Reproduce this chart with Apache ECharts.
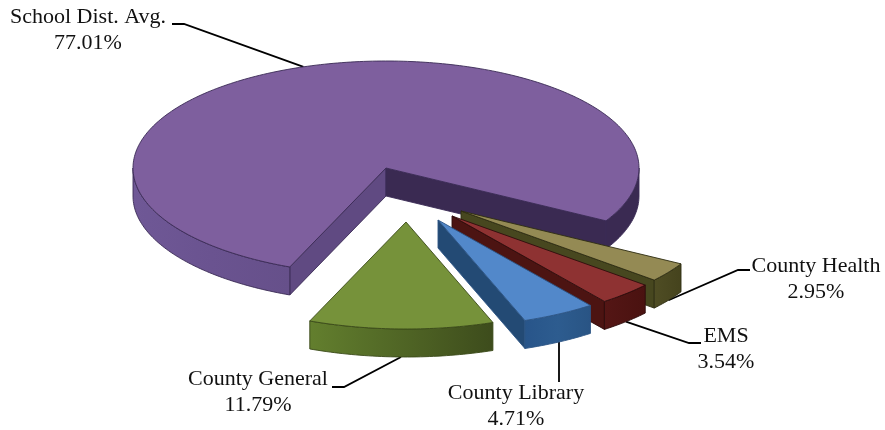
<!DOCTYPE html>
<html>
<head>
<meta charset="utf-8">
<style>html,body{margin:0;padding:0;background:#fff}#c{width:885px;height:430px}</style>
<script src="https://cdn.jsdelivr.net/npm/echarts@6/dist/echarts.min.js"></script>
</head>
<body>
<div id="c"></div>
<script>
// Data
var categories = ['School Dist. Avg.', 'County Health', 'EMS', 'County Library', 'County General'];
var shares = [77.01, 2.95, 3.54, 4.71, 11.79];

// Layout of the tilted pie (pixels / degrees)
var CX = 386, CY = 168, RX = 253, RY = 107, DEPTH = 28, START_ANGLE = 112.35;
var explode = [[0, 0], [75, 43], [66, 48], [52, 52], [20, 54]];
var labelCenters = [[88, 30], [816, 279], [726, 349], [516, 406], [258, 392]];
var leaderElbows = [
  [[172, 24], [184, 24]],
  [[750, 270], [738, 270]],
  [[701, 343], [689, 343]],
  [[559, 382]],
  [[332, 387], [344, 387]]
];

// Styles
var gr = function (stops) {
  return new echarts.graphic.LinearGradient(0, 0, 1, 0, stops.map(function (c, i) {
    return { offset: i / (stops.length - 1), color: c };
  }));
};
var styles = [
  { top: '#7e5f9e', edge: '#3a2a55', wallStart: '#604a82', wallEnd: '#3a2a52',
    rimFront: gr(['#6f5896', '#6a5390', '#66508a']), rimBack: '#3a2a52' },
  { top: '#948a54', edge: '#2e2c12', wallEnd: '#47471f', rim: gr(['#4f4d24', '#45431d']) },
  { top: '#8e3232', edge: '#2e0c0c', wallEnd: '#4c1412', rim: gr(['#541615', '#4a1210']) },
  { top: '#5288ca', edge: '#2c5585', wallEnd: '#234a74', rim: gr(['#28558a', '#2d5c8f', '#295484']) },
  { top: '#76923a', edge: '#3a4a18', wallEnd: '#4f6425', rim: gr(['#637f2e', '#566e28', '#4a5d22', '#3d4c1c']) }
];

var total = shares.reduce(function (a, b) { return a + b; }, 0);
var startAngles = [], acc = START_ANGLE;
shares.forEach(function (s) { startAngles.push(acc); acc += s / total * 360; });

function pt(ox, oy, deg, drop) {
  var t = deg * Math.PI / 180;
  return [ox + RX * Math.cos(t), oy + RY * Math.sin(t) + (drop || 0)];
}
function arc(ox, oy, a0, a1, drop) {
  var pts = [], n = Math.max(2, Math.ceil(Math.abs(a1 - a0)));
  for (var i = 0; i <= n; i++) pts.push(pt(ox, oy, a0 + (a1 - a0) * i / n, drop));
  return pts;
}
function poly(points, fill, stroke) {
  return { type: 'polygon', shape: { points: points },
    style: { fill: fill, stroke: stroke, lineWidth: 0.9, lineJoin: 'round' }, silent: true };
}

function renderItem(params, api) {
  var i = params.dataIndex, share = api.value(1);
  var s = styles[i];
  var a0 = startAngles[i], a1 = a0 + share / total * 360;
  var ox = CX + explode[i][0], oy = CY + explode[i][1];
  var kids = [];

  // walls that face the viewer
  if (Math.cos(a0 * Math.PI / 180) < 0) {
    var p0 = pt(ox, oy, a0);
    kids.push(poly([[ox, oy], p0, [p0[0], p0[1] + DEPTH], [ox, oy + DEPTH]], s.wallStart || s.wallEnd, s.edge));
  }
  if (Math.cos(a1 * Math.PI / 180) > 0) {
    var p1 = pt(ox, oy, a1);
    kids.push(poly([[ox, oy], p1, [p1[0], p1[1] + DEPTH], [ox, oy + DEPTH]], s.wallEnd, s.edge));
  }
  // outer rim, in the front half only
  [[0, 180], [360, 540]].forEach(function (w) {
    var lo = Math.max(a0, w[0]), hi = Math.min(a1, w[1]);
    if (hi <= lo) return;
    var fill = s.rim || (w[0] === 0 ? s.rimFront : s.rimBack);
    kids.push(poly(arc(ox, oy, lo, hi, 0).concat(arc(ox, oy, hi, lo, DEPTH)), fill, s.edge));
  });
  // top face
  kids.push(poly([[ox, oy]].concat(arc(ox, oy, a0, a1, 0)), s.top, s.edge));
  return { type: 'group', children: kids };
}

function renderLabel(params, api) {
  var i = params.dataIndex, share = api.value(1);
  var a0 = startAngles[i], mid = a0 + share / total * 180;
  var ox = CX + explode[i][0], oy = CY + explode[i][1];
  var anchor = pt(ox, oy, mid, Math.sin(mid * Math.PI / 180) > 0 ? DEPTH : 0);
  return { type: 'group', children: [
    { type: 'polyline', shape: { points: leaderElbows[i].concat([anchor]) },
      style: { fill: null, stroke: '#000', lineWidth: 1.8 }, silent: true },
    { type: 'text', x: labelCenters[i][0], y: labelCenters[i][1], silent: true,
      style: { text: categories[i] + '\n' + share.toFixed(2) + '%',
        fontFamily: '"Liberation Serif"', fontSize: 22, lineHeight: 26,
        fill: '#111', align: 'center', verticalAlign: 'middle' } }
  ] };
}

var seriesData = categories.map(function (c, i) { return [i, shares[i]]; });
var chart = echarts.init(document.getElementById('c'), null, { renderer: 'canvas' });
chart.setOption({
  animation: false,
  backgroundColor: '#fff',
  series: [
    { type: 'custom', coordinateSystem: 'none', renderItem: renderItem, data: seriesData, z: 2 },
    { type: 'custom', coordinateSystem: 'none', renderItem: renderLabel, data: seriesData, z: 1 }
  ]
});
</script>
</body>
</html>
